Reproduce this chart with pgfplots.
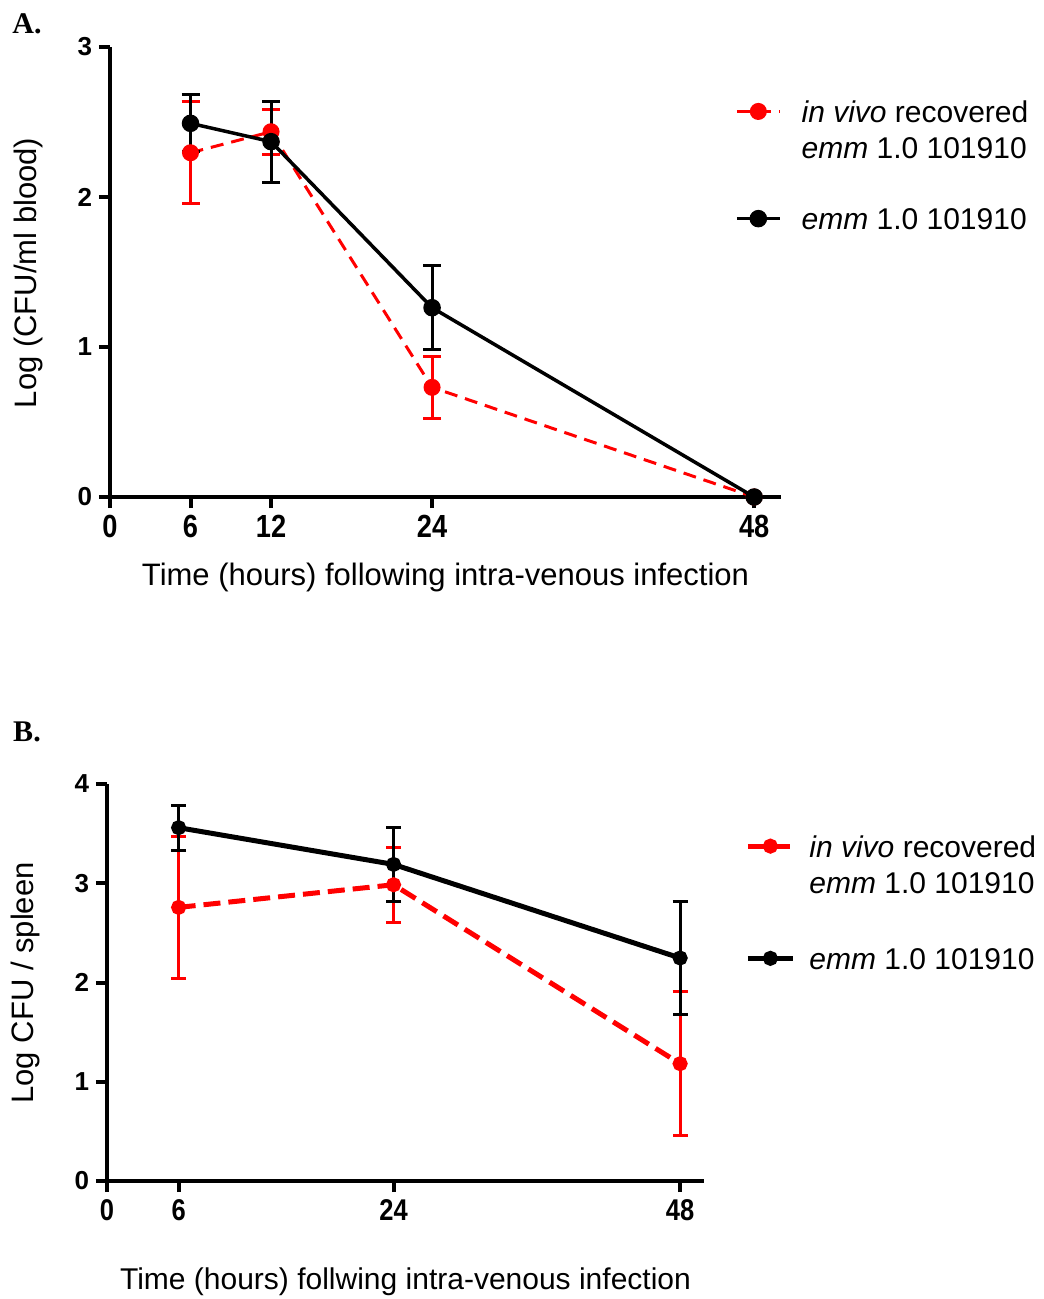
\documentclass[border=0pt]{standalone}
\usepackage{fontspec}
\setmainfont{Liberation Sans}
\newfontfamily\panelfont{Liberation Serif}
\usepackage{pgfplots}
\pgfplotsset{compat=1.18}

\definecolor{vivored}{RGB}{255,0,0}

% survival / clearance data: mean log count and SEM
\pgfplotstableread{
t   m      e
6   2.295  0.34
12  2.435  0.15
24  0.731  0.205
48  0      0
}\bloodvivo
\pgfplotstableread{
t   m      e
6   2.491  0.19
12  2.369  0.27
24  1.262  0.28
48  0      0
}\bloodwt
\pgfplotstableread{
t   m      e
6   2.757  0.715
24  2.985  0.38
48  1.182  0.725
}\spleenvivo
\pgfplotstableread{
t   m      e
6   3.560  0.225
24  3.190  0.373
48  2.247  0.572
}\spleenwt

\pgfplotsset{
  panel/.style={
    scale only axis,
    axis x line*=bottom, axis y line*=left,
    axis line style={line width=2bp, -},
    tick align=outside,
    major tick length=5.5bp,
    every tick/.style={line width=2bp, black},
    xmin=0, xmax=50, ymin=0,
    /pgf/number format/assume math mode=true,
    clip=false,
    legend cell align=left,
    label style={font=\fontsize{15.5bp}{18bp}\selectfont},
  },
}

% two-line legend entry
\newcommand\entryA{\begin{tabular}[t]{@{}l@{}}\textit{in vivo} recovered\\\textit{emm} 1.0 101910\end{tabular}}
\newcommand\entryB{\begin{tabular}[t]{@{}l@{}}\textit{emm} 1.0 101910\end{tabular}}

\begin{document}
\begin{tikzpicture}
\useasboundingbox (0,0) rectangle (522bp,-649.5bp);

\node[font=\panelfont\bfseries\fontsize{15bp}{18bp}\selectfont, anchor=center] at (13.5bp,-11.75bp) {A.};
\node[font=\panelfont\bfseries\fontsize{15bp}{18bp}\selectfont, anchor=center] at (13.5bp,-366bp) {B.};

% Panel A: blood
\begin{axis}[panel,
  at={(55bp,-248.5bp)}, anchor=south west,
  width=335.5bp, height=225bp,
  ymax=3,
  xtick={0,6,12,24,48}, ytick={0,1,2,3},
  xticklabel style={font=\bfseries\fontsize{16bp}{18bp}\selectfont, xscale=0.85},
  yticklabel style={font=\bfseries\fontsize{13bp}{15bp}\selectfont},
  xlabel={Time (hours) following intra-venous infection},
  ylabel={Log (CFU/ml blood)},
  xlabel style={at={(axis description cs:0.5,-0.178)}, anchor=center},
  ylabel style={at={(axis description cs:-0.122,0.498)}, anchor=center, rotate=0},
  legend image code/.code={\draw[mark repeat=2,mark phase=2,#1] plot coordinates {(0bp,0bp) (10.75bp,0bp) (21.5bp,0bp)};},
  legend style={at={(0.931,0.889)}, anchor=north west, draw=none, fill=none,
    inner sep=0pt, row sep=39.5bp,
    nodes={inner sep=0pt, font=\fontsize{15bp}{18bp}\selectfont},
    /tikz/every odd column/.append style={column sep=10bp}},
]
\addplot[vivored, line width=1.5bp, dash pattern=on 6.5bp off 4bp,
  mark=*, mark size=3.5bp, mark options={solid, fill=vivored},
  error bars/.cd, y dir=both, y explicit,
  error bar style={line width=1.5bp, solid},
  error mark options={rotate=90, line width=1.5bp, mark size=4.5bp, solid}]
  table[x=t, y=m, y error=e] {\bloodvivo};
\addlegendentry{\entryA}
\addplot[black, line width=1.75bp,
  mark=*, mark size=3.5bp, mark options={solid, fill=black},
  error bars/.cd, y dir=both, y explicit,
  error bar style={line width=1.5bp},
  error mark options={rotate=90, line width=1.5bp, mark size=4.5bp}]
  table[x=t, y=m, y error=e] {\bloodwt};
\addlegendentry{\entryB}
\end{axis}

% Panel B: spleen
\begin{axis}[panel,
  at={(53.5bp,-590.5bp)}, anchor=south west,
  width=298.5bp, height=198.5bp,
  ymax=4,
  xtick={0,6,24,48}, ytick={0,1,2,3,4},
  xticklabel style={font=\bfseries\fontsize{15bp}{18bp}\selectfont, xscale=0.85},
  yticklabel style={font=\bfseries\fontsize{13bp}{15bp}\selectfont},
  xlabel={Time (hours) follwing intra-venous infection},
  ylabel={Log CFU / spleen},
  xlabel style={at={(axis description cs:0.5,-0.254)}, anchor=center, font=\fontsize{15bp}{18bp}\selectfont},
  ylabel style={at={(axis description cs:-0.136,0.499)}, anchor=center, rotate=0},
  legend image code/.code={\draw[mark repeat=2,mark phase=2,#1] plot coordinates {(0bp,0bp) (11.25bp,0bp) (22.5bp,0bp)};},
  legend style={at={(1.0687,0.880)}, anchor=north west, draw=none, fill=none,
    inner sep=0pt, row sep=42bp,
    nodes={inner sep=0pt, font=\fontsize{15bp}{18bp}\selectfont},
    /tikz/every odd column/.append style={column sep=7bp}},
]
\addplot[vivored, line width=2.5bp, dash pattern=on 8.5bp off 4bp,
  mark=*, mark size=2.5bp, mark options={solid, fill=vivored},
  error bars/.cd, y dir=both, y explicit,
  error bar style={line width=1.5bp, solid},
  error mark options={rotate=90, line width=1.5bp, mark size=3.75bp, solid}]
  table[x=t, y=m, y error=e] {\spleenvivo};
\addlegendentry{\entryA}
\addplot[black, line width=2.5bp,
  mark=*, mark size=2.5bp, mark options={solid, fill=black},
  error bars/.cd, y dir=both, y explicit,
  error bar style={line width=1.5bp},
  error mark options={rotate=90, line width=1.5bp, mark size=3.75bp}]
  table[x=t, y=m, y error=e] {\spleenwt};
\addlegendentry{\entryB}
\end{axis}
\end{tikzpicture}
\end{document}
